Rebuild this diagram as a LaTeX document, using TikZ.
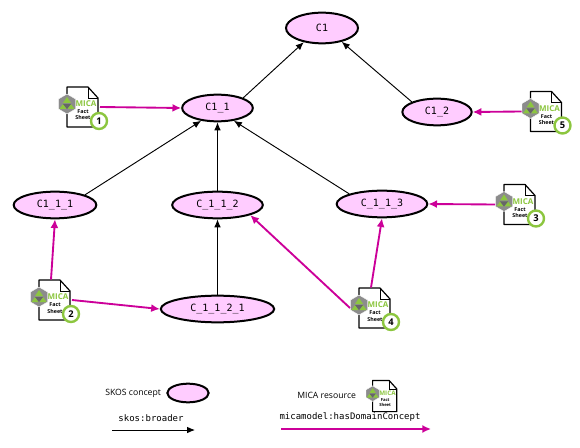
\documentclass[tikz,border=0pt]{standalone}
\usepackage{fontspec}
\setmainfont{Open Sans}
\setmonofont{DejaVu Sans Mono}
\usepackage{tikz}
\usetikzlibrary{arrows.meta,positioning,shapes.geometric}

\definecolor{conceptpink}{HTML}{FFCCFF}
\definecolor{domainmagenta}{HTML}{CC0099}
\definecolor{micagreen}{HTML}{8CC63F}
\definecolor{micagray}{HTML}{8C8C8C}

\tikzset{
  concept/.style={ellipse,draw=black,line width=1.5pt,fill=conceptpink,inner sep=0pt,
    minimum height=20pt,font=\ttfamily\fontsize{7.5}{9}\selectfont},
  sheetbox/.style={rectangle,minimum width=31.5pt,minimum height=30.75pt,inner sep=0pt,outer sep=0pt},
  broader/.style={-{Latex[length=6pt,width=5pt]},line width=0.7pt,black},
  hasconcept/.style={-{Latex[length=6.5pt,width=6pt]},line width=1.4pt,domainmagenta},
  caption/.style={font=\fontsize{6.5}{8}\selectfont,inner sep=0pt},
  monocaption/.style={font=\ttfamily\fontsize{6.75}{8}\selectfont,inner sep=0pt},
  factsheet/.pic={
    \draw[line width=0.9pt,fill=white,line join=round]
      (-12,-20) -- (9,-20) -- (19,-9) -- (19,20) -- (-12,20) -- cycle;
    \draw[line width=0.7pt] (9,-20) -- (9,-9) -- (19,-9);
    \fill[micagray,draw=white,line width=0.3pt] (-12,-13) -- (-3.5,-8) -- (-3.5,2) -- (-12,7) -- (-20.5,2) -- (-20.5,-8) -- cycle;
    \fill[micagreen] (-12,-10) -- (-16,-4) -- (-8,-4) -- cycle;
    \fill[micagreen] (-16,-3) -- (-19.5,2) -- (-12.5,2) -- cycle;
    \fill[micagreen] (-8,-3) -- (-11.5,2) -- (-4.5,2) -- cycle;
    \fill[black!60] (-16,-3) -- (-8,-3) -- (-12,2) -- cycle;
    \node[transform shape,text=micagreen,inner sep=0pt,font=\bfseries\fontsize{6}{7}\selectfont] at (7,-3) {MICA};
    \node[transform shape,inner sep=0pt,font=\bfseries\fontsize{4}{5}\selectfont] at (4,5) {Fact};
    \node[transform shape,inner sep=0pt,font=\bfseries\fontsize{4}{5}\selectfont] at (4,11) {Sheet};
  },
  sheetnumber/.style={circle,draw=micagreen,fill=white,line width=1.8pt,minimum size=12pt,inner sep=0pt,
    font=\bfseries\fontsize{7}{8}\selectfont},
}

\begin{document}
\begin{tikzpicture}[x=0.75pt,y=-0.75pt]
  \useasboundingbox (0,0) rectangle (580,448);

  \node[concept,minimum width=54pt,minimum height=23pt] (c1) at (322,28) {C1};
  \node[concept,minimum width=53pt] (c11) at (217.5,108) {C1\_1};
  \node[concept,minimum width=52pt] (c12) at (437,112) {C1\_2};
  \node[concept,minimum width=62pt] (c111) at (55,205) {C1\_1\_1};
  \node[concept,minimum width=68pt] (c112) at (217.5,205) {C\_1\_1\_2};
  \node[concept,minimum width=68pt] (c113) at (382,204) {C\_1\_1\_3};
  \node[concept,minimum width=85pt] (c1121) at (217.5,309) {C\_1\_1\_2\_1};

  \node[sheetbox] (sheet1) at (79,107) {};
  \node[sheetbox] (sheet2) at (51,300) {};
  \node[sheetbox] (sheet3) at (516,204.5) {};
  \node[sheetbox] (sheet4) at (371,308) {};
  \node[sheetbox] (sheet5) at (542.5,111.5) {};
  \foreach \n/\xpos/\ypos in {1/79/107,2/51/300,3/516/204.5,4/371/308,5/542.5/111.5}{
    \pic at (\xpos,\ypos) {factsheet};
    \node[sheetnumber] (num\n) at (\xpos+20,\ypos+14) {\n};
  }

  \draw[broader] (c11.north east) -- (c1.218);
  \draw[broader] (c12.north west) -- (c1.325);
  \draw[broader] (c111.north east) -- (c11.218);
  \draw[broader] (c112) -- (c11);
  \draw[broader] (c113.north west) -- (c11.322);
  \draw[broader] (c1121) -- (c112);

  \draw[hasconcept] (sheet1.east) -- (c11.west);
  \draw[hasconcept] (sheet2.north) -- (c111.south);
  \draw[hasconcept] (sheet2.east) -- (c1121.west);
  \draw[hasconcept] (sheet3.west) -- (c113.east);
  \draw[hasconcept] (sheet4.north) -- (c113.south);
  \draw[hasconcept] (sheet4.west) -- (c112.south east);
  \draw[hasconcept] (sheet5.west) -- (c12.east);

  % legend
  \node[caption,anchor=west] (skoslabel) at (105,393) {SKOS concept};
  \node[concept,minimum width=31pt,minimum height=14pt] (skosshape) at (188,393) {};
  \node[monocaption] (broaderlabel) at (151,418) {skos:broader};
  \coordinate (broaderstart) at (112,430);
  \coordinate (broaderend) at (195,430);
  \draw[broader] (broaderstart) -- (broaderend);
  \node[caption,anchor=west] (micalabel) at (297,395) {MICA resource};
  \node[sheetbox,minimum width=24pt,minimum height=24pt] (sheetlegend) at (382,396) {};
  \pic[scale=0.78] at (382,396) {factsheet};
  \node[monocaption] (domainlabel) at (350,417) {micamodel:hasDomainConcept};
  \coordinate (domainstart) at (281,429);
  \coordinate (domainend) at (431,429);
  \draw[hasconcept] (domainstart) -- (domainend);
\end{tikzpicture}
\end{document}
